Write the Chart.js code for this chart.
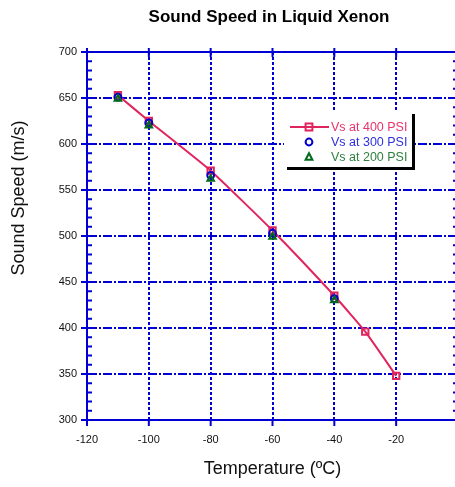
<!DOCTYPE html>
<html>
<head>
<meta charset="utf-8">
<script src="https://cdn.jsdelivr.net/npm/chart.js@4/dist/chart.umd.min.js"></script>
<style>
  html, body { margin: 0; padding: 0; background: #fff; overflow: hidden; }
  #wrap { position: relative; width: 475px; height: 487px; }
  #title {
    position: absolute; left: 0; top: 7px; width: 538px; text-align: center;
    font: bold 17px "Liberation Sans", Arial, sans-serif; color: #000;
  }
  #ytitle {
    position: absolute; left: -82px; top: 188px; width: 200px; height: 20px;
    line-height: 20px; text-align: center; transform: rotate(-90deg);
    font: 18px "Liberation Sans", Arial, sans-serif; color: #111;
  }
</style>
</head>
<body>
<div id="wrap">
  <canvas id="chart"></canvas>
  <div id="title">Sound Speed in Liquid Xenon</div>
  <div id="ytitle">Sound Speed (m/s)</div>
</div>
<script>
// temperatures (deg C) and sound speeds (m/s)
const temps400 = [-110, -100, -80, -60, -40, -30, -20];
const speed400 = [653, 625, 571, 506, 435, 396, 348];
const temps300 = [-110, -100, -80, -60, -40];
const speed300 = [651, 623, 566, 503, 432];
const temps200 = [-110, -100, -80, -60, -40];
const speed200 = [649, 620, 562, 499, 430];
const seriesNames = ['Vs at 400 PSI', 'Vs at 300 PSI', 'Vs at 200 PSI'];

const xTicks = [-120, -100, -80, -60, -40, -20, 0];
const yTicks = [300, 350, 400, 450, 500, 550, 600, 650, 700];

const blue = '#0000d4';
const pink = '#e0245e';
const navy = '#0000cc';
const green = '#006b1a';
const textColors = ['#e8336b', '#3030e0', '#2f7f3f'];

const toPoints = (xs, ys) => xs.map((t, i) => ({ x: t, y: ys[i] }));

function marker(ctx, style, x, y, r) {
  ctx.beginPath();
  if (style === 'rect') {
    ctx.rect(x - r, y - r, 2 * r, 2 * r);
  } else if (style === 'circle') {
    ctx.arc(x, y, r, 0, Math.PI * 2);
  } else {
    ctx.moveTo(x, y - r * 1.1);
    ctx.lineTo(x + r, y + r * 0.8);
    ctx.lineTo(x - r, y + r * 0.8);
    ctx.closePath();
  }
  ctx.stroke();
}

// outer frame with ticks on all four sides
const frame = {
  id: 'frame',
  beforeDatasetsDraw(chart) {
    const { ctx, chartArea: a, scales: { x, y } } = chart;
    ctx.save();
    ctx.strokeStyle = blue;
    ctx.lineWidth = 2;
    ctx.beginPath();
    ctx.moveTo(a.left, a.top);
    ctx.lineTo(a.right, a.top);
    ctx.lineTo(a.right, a.bottom);
    for (let v = y.min; v <= y.max; v += 10) {
      const py = y.getPixelForValue(v);
      const major = v % 50 === 0;
      ctx.moveTo(a.left - (major ? 6 : 0), py);
      ctx.lineTo(a.left + 5, py);
      ctx.moveTo(a.right - 5, py);
      ctx.lineTo(a.right + (major ? 6 : 0), py);
    }
    xTicks.forEach((t) => {
      const px = x.getPixelForValue(t);
      ctx.moveTo(px, a.top - 4);
      ctx.lineTo(px, a.top + 5);
      ctx.moveTo(px, a.bottom);
      ctx.lineTo(px, a.bottom + 6);
    });
    ctx.stroke();
    ctx.restore();
  },
};

// boxed legend with drop shadow inside the plot
const boxLegend = {
  id: 'boxLegend',
  afterDatasetsDraw(chart) {
    const { ctx, chartArea: a } = chart;
    const bx = a.left + 197, by = a.top + 59, bw = 128, bh = 56;
    ctx.save();
    ctx.fillStyle = '#000';
    ctx.fillRect(bx + 3, by + 3, bw, bh);
    ctx.fillStyle = '#fff';
    ctx.fillRect(bx, by, bw, bh);
    ctx.font = '12.5px "Liberation Sans", Arial, sans-serif';
    ctx.textBaseline = 'middle';
    chart.data.datasets.forEach((ds, i) => {
      const ly = by + 16 + i * 15;
      ctx.lineWidth = 2;
      ctx.strokeStyle = ds.borderColor;
      if (ds.showLine !== false) {
        ctx.beginPath();
        ctx.moveTo(bx + 6, ly);
        ctx.lineTo(bx + 45, ly);
        ctx.stroke();
      }
      ctx.strokeStyle = ds.pointBorderColor;
      marker(ctx, ds.pointStyle, bx + 25, ly, 3.4);
      ctx.fillStyle = textColors[i];
      ctx.fillText(ds.label, bx + 47, ly + 1);
    });
    ctx.restore();
  },
};

new Chart(document.getElementById('chart'), {
  type: 'scatter',
  data: {
    datasets: [
      {
        label: seriesNames[0],
        data: toPoints(temps400, speed400),
        showLine: true,
        borderColor: pink,
        borderWidth: 2,
        tension: 0.15,
        pointStyle: 'rect',
        pointRadius: 4.5,
        pointBorderWidth: 2,
        pointBorderColor: pink,
        pointBackgroundColor: 'rgba(255,255,255,0)',
        order: 3,
      },
      {
        label: seriesNames[1],
        data: toPoints(temps300, speed300),
        showLine: false,
        borderColor: navy,
        pointStyle: 'circle',
        pointRadius: 3.4,
        pointBorderWidth: 2,
        pointBorderColor: navy,
        pointBackgroundColor: 'rgba(255,255,255,0)',
        order: 2,
      },
      {
        label: seriesNames[2],
        data: toPoints(temps200, speed200),
        showLine: false,
        borderColor: green,
        pointStyle: 'triangle',
        pointRadius: 3.8,
        pointBorderWidth: 2,
        pointBorderColor: green,
        pointBackgroundColor: 'rgba(255,255,255,0)',
        order: 1,
      },
    ],
  },
  options: {
    responsive: true,
    maintainAspectRatio: false,
    animation: false,
    layout: { padding: { top: 52, right: 17, left: 0, bottom: 0 } },
    plugins: { legend: { display: false }, tooltip: { enabled: false } },
    scales: {
      x: {
        type: 'linear',
        min: -120,
        max: 0,
        afterBuildTicks: (s) => { s.ticks = xTicks.map((v) => ({ value: v })); },
        afterFit: (s) => { s.height = 67; },
        ticks: { color: '#111', padding: 13, font: { family: '"Liberation Sans", Arial', size: 11 } },
        grid: { color: blue, lineWidth: 2, drawTicks: false },
        border: { color: blue, width: 2, dash: [3, 2] },
        title: {
          display: true,
          text: 'Temperature (\u00BAC)',
          color: '#111',
          padding: { top: 0, bottom: 7 },
          font: { family: '"Liberation Sans", Arial', size: 18 },
        },
      },
      y: {
        min: 300,
        max: 700,
        afterBuildTicks: (s) => { s.ticks = yTicks.map((v) => ({ value: v })); },
        afterFit: (s) => { s.width = 87; },
        ticks: { color: '#111', padding: 10, font: { family: '"Liberation Sans", Arial', size: 11 } },
        grid: { color: blue, lineWidth: 2, drawTicks: false },
        border: { color: blue, width: 2, dash: [9, 2, 2, 2] },
      },
    },
  },
  plugins: [frame, boxLegend],
});
</script>
</body>
</html>
